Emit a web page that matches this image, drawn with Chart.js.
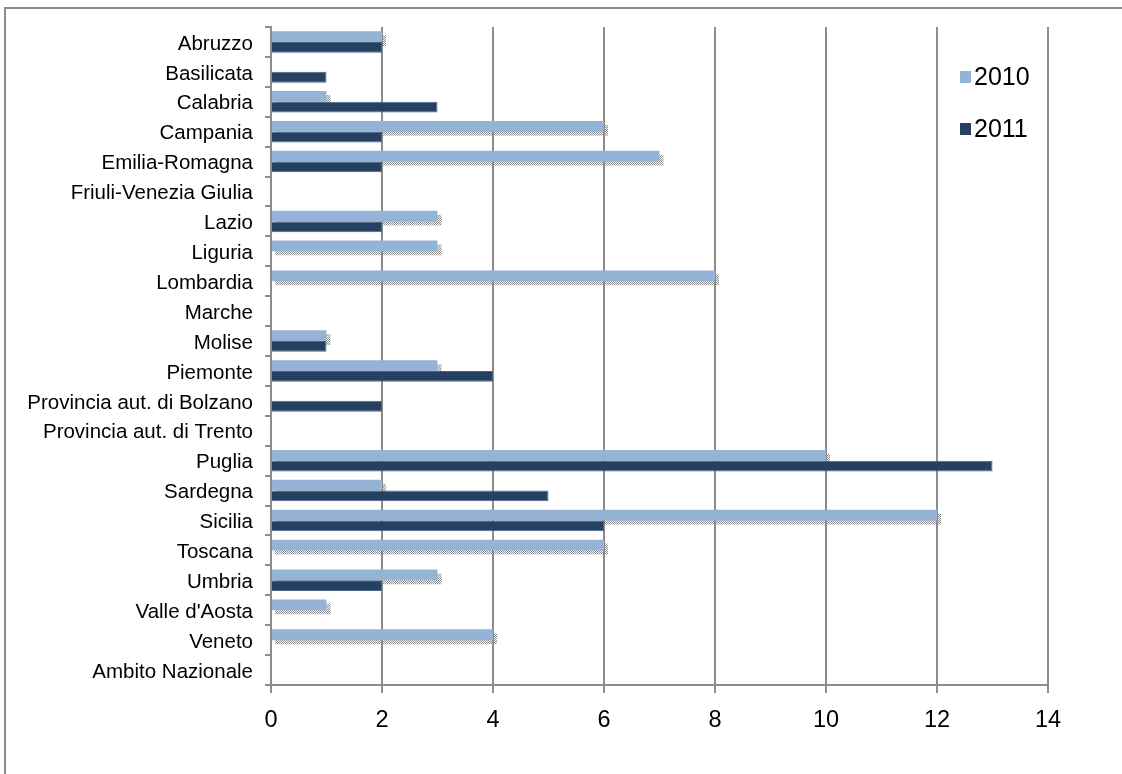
<!DOCTYPE html>
<html>
<head>
<meta charset="utf-8">
<script src="https://cdn.jsdelivr.net/npm/chart.js@4.4.0/dist/chart.umd.min.js"></script>
<style>
	html, body { margin: 0; padding: 0; background: #fff; }
	canvas { display: block; }
</style>
</head>
<body>
<canvas id="chart" width="1122" height="774"></canvas>
<script>
const regions = ["Abruzzo", "Basilicata", "Calabria", "Campania", "Emilia-Romagna", "Friuli-Venezia Giulia",
	"Lazio", "Liguria", "Lombardia", "Marche", "Molise", "Piemonte", "Provincia aut. di Bolzano",
	"Provincia aut. di Trento", "Puglia", "Sardegna", "Sicilia", "Toscana", "Umbria", "Valle d'Aosta",
	"Veneto", "Ambito Nazionale"];
const values2010 = [2, 0, 1, 6, 7, 0, 3, 3, 8, 0, 1, 3, 0, 0, 10, 2, 12, 6, 3, 1, 4, 0];
const values2011 = [2, 1, 3, 2, 2, 0, 2, 0, 0, 0, 1, 4, 2, 0, 13, 5, 6, 0, 2, 0, 0, 0];
const seriesLabels = ["2010", "2011"];

const FONT = "'Liberation Sans', Arial, sans-serif";
const GRID = '#8c8c8c';

// dotted pattern for the bar shadows
function makeDots() {
	const c = document.createElement('canvas');
	c.width = 2; c.height = 2;
	const g = c.getContext('2d');
	g.fillStyle = '#8a8a8a';
	g.fillRect(0, 0, 1, 1);
	g.fillRect(1, 1, 1, 1);
	return c;
}

const frame = {
	id: 'frame',
	beforeDraw(chart) {
		const ctx = chart.ctx;
		ctx.save();
		ctx.fillStyle = '#fff';
		ctx.fillRect(0, 0, chart.width, chart.height);
		ctx.strokeStyle = GRID;
		ctx.lineWidth = 2;
		ctx.strokeRect(5, 8, chart.width + 20, chart.height + 20);
		ctx.restore();
	}
};

// only the 2010 bars show the dotted shadow
const barShadow = {
	id: 'barShadow',
	beforeDatasetsDraw(chart) {
		const ctx = chart.ctx;
		const ds = chart.data.datasets[0];
		ctx.save();
		ctx.fillStyle = ctx.createPattern(makeDots(), 'repeat');
		chart.getDatasetMeta(0).data.forEach((bar, j) => {
			if (!ds.data[j]) return;
			const p = bar.getProps(['x', 'y', 'base', 'height'], true);
			ctx.fillRect(p.base + 3, p.y - p.height / 2 + 4, p.x - p.base + 1, p.height);
		});
		ctx.restore();
	}
};

const sideLegend = {
	id: 'sideLegend',
	afterDraw(chart) {
		const ctx = chart.ctx;
		ctx.save();
		ctx.font = '25px ' + FONT;
		ctx.textBaseline = 'middle';
		chart.data.datasets.forEach((ds, i) => {
			const y = 77 + i * 52;
			ctx.fillStyle = ds.backgroundColor;
			ctx.fillRect(960, y - 6, 11, 12);
			ctx.fillStyle = '#000';
			ctx.fillText(ds.label, 974, y + 1);
		});
		ctx.restore();
	}
};

new Chart(document.getElementById('chart'), {
	type: 'bar',
	data: {
		labels: regions,
		datasets: [
			{
				label: seriesLabels[0],
				data: values2010,
				backgroundColor: '#95b3d7',
				borderWidth: 0,
				categoryPercentage: 0.72,
				barPercentage: 1.0,
			},
			{
				label: seriesLabels[1],
				data: values2011,
				backgroundColor: '#254061',
				borderColor: '#4a6485',
				borderWidth: 1,
				categoryPercentage: 0.72,
				barPercentage: 1.0,
			},
		],
	},
	options: {
		indexAxis: 'y',
		responsive: false,
		animation: false,
		layout: { padding: { left: 0, top: 27, right: 74, bottom: 0 } },
		scales: {
			x: {
				min: 0,
				max: 14,
				afterFit(scale) { scale.height = 89; },
				ticks: {
					stepSize: 2,
					color: '#000',
					padding: 13,
					font: { family: FONT, size: 23.5 },
				},
				grid: {
					color: GRID,
					lineWidth: 2,
					tickLength: 8,
				},
				border: { color: GRID, width: 2 },
			},
			y: {
				afterFit(scale) { scale.width = 271; },
				ticks: {
					color: '#000',
					padding: 12,
					labelOffset: 2,
					autoSkip: false,
					font: { family: FONT, size: 20.5 },
				},
				grid: {
					drawOnChartArea: false,
					color: GRID,
					lineWidth: 2,
					tickLength: 6,
				},
				border: { color: GRID, width: 2 },
			},
		},
		plugins: {
			legend: { display: false },
			tooltip: { enabled: false },
		},
	},
	plugins: [frame, barShadow, sideLegend],
});
</script>
</body>
</html>
